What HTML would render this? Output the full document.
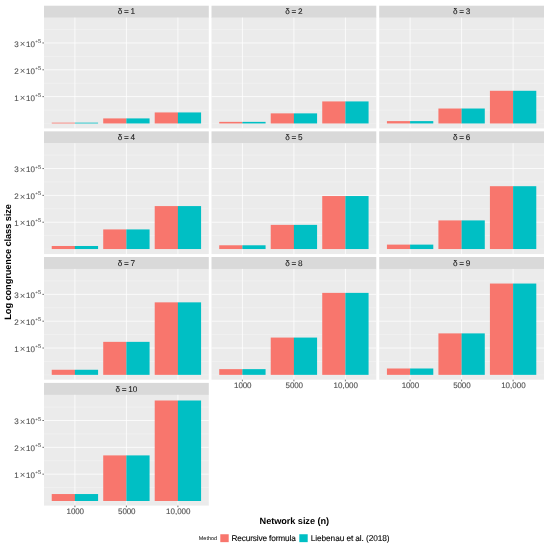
<!DOCTYPE html>
<html lang="en">
<head>
<meta charset="utf-8">
<title>Log congruence class size by network size</title>
<style>
html,body{margin:0;padding:0;background:#fff;}
body{width:550px;height:547px;overflow:hidden;font-family:"Liberation Sans",Arial,Helvetica,sans-serif;}
svg{display:block;text-rendering:geometricPrecision;}
</style>
</head>
<body>
<svg width="550" height="547" viewBox="0 0 550 547" font-family="'Liberation Sans', Arial, Helvetica, sans-serif">
<rect x="0" y="0" width="550" height="547" fill="#ffffff"/>
<g>
<rect x="44.00" y="5.70" width="164.80" height="12.20" fill="#D9D9D9"/>
<rect x="44.00" y="17.60" width="164.80" height="110.80" fill="#EBEBEB"/>
<line x1="44.00" x2="208.80" y1="123.45" y2="123.45" stroke="#fff" stroke-opacity="0.35" stroke-width="0.5"/>
<line x1="44.00" x2="208.80" y1="110.03" y2="110.03" stroke="#fff" stroke-opacity="0.6" stroke-width="0.5"/>
<line x1="44.00" x2="208.80" y1="83.20" y2="83.20" stroke="#fff" stroke-opacity="0.6" stroke-width="0.5"/>
<line x1="44.00" x2="208.80" y1="56.37" y2="56.37" stroke="#fff" stroke-opacity="0.6" stroke-width="0.5"/>
<line x1="44.00" x2="208.80" y1="29.54" y2="29.54" stroke="#fff" stroke-opacity="0.6" stroke-width="0.5"/>
<line x1="44.00" x2="208.80" y1="96.62" y2="96.62" stroke="#fff" stroke-opacity="0.9" stroke-width="0.85"/>
<line x1="44.00" x2="208.80" y1="69.79" y2="69.79" stroke="#fff" stroke-opacity="0.9" stroke-width="0.85"/>
<line x1="44.00" x2="208.80" y1="42.96" y2="42.96" stroke="#fff" stroke-opacity="0.9" stroke-width="0.85"/>
<line x1="74.90" x2="74.90" y1="17.60" y2="128.40" stroke="#fff" stroke-opacity="0.9" stroke-width="0.85"/>
<line x1="126.40" x2="126.40" y1="17.60" y2="128.40" stroke="#fff" stroke-opacity="0.9" stroke-width="0.85"/>
<line x1="177.90" x2="177.90" y1="17.60" y2="128.40" stroke="#fff" stroke-opacity="0.9" stroke-width="0.85"/>
<rect x="51.73" y="122.66" width="23.28" height="0.79" fill="#F8766D"/>
<rect x="74.90" y="122.66" width="23.18" height="0.79" fill="#00BFC4"/>
<rect x="103.22" y="118.41" width="23.28" height="5.04" fill="#F8766D"/>
<rect x="126.40" y="118.41" width="23.18" height="5.04" fill="#00BFC4"/>
<rect x="154.72" y="112.44" width="23.28" height="11.01" fill="#F8766D"/>
<rect x="177.90" y="112.44" width="23.18" height="11.01" fill="#00BFC4"/>
<text x="126.40" y="14.45" font-size="8.2" fill="#1A1A1A" stroke="#1A1A1A" stroke-width="0.1" text-anchor="middle" word-spacing="-0.6">δ = 1</text>
<line x1="42.40" x2="44.00" y1="96.62" y2="96.62" stroke="#333333" stroke-width="0.7"/>
<text y="100.52" font-size="8.0" fill="#4D4D4D"><tspan x="14.2" stroke="#4D4D4D" stroke-width="0.1">1</tspan><tspan x="19.75" font-size="9.6" dy="0.3" fill="#5c5c5c">×</tspan><tspan x="26.0" dy="-0.3" stroke="#4D4D4D" stroke-width="0.1">10</tspan><tspan x="35.2" dy="-3.8" font-size="4.6">+</tspan><tspan x="38.0" font-size="5.7">5</tspan></text>
<line x1="42.40" x2="44.00" y1="69.79" y2="69.79" stroke="#333333" stroke-width="0.7"/>
<text y="73.69" font-size="8.0" fill="#4D4D4D"><tspan x="14.2" stroke="#4D4D4D" stroke-width="0.1">2</tspan><tspan x="19.75" font-size="9.6" dy="0.3" fill="#5c5c5c">×</tspan><tspan x="26.0" dy="-0.3" stroke="#4D4D4D" stroke-width="0.1">10</tspan><tspan x="35.2" dy="-3.8" font-size="4.6">+</tspan><tspan x="38.0" font-size="5.7">5</tspan></text>
<line x1="42.40" x2="44.00" y1="42.96" y2="42.96" stroke="#333333" stroke-width="0.7"/>
<text y="46.86" font-size="8.0" fill="#4D4D4D"><tspan x="14.2" stroke="#4D4D4D" stroke-width="0.1">3</tspan><tspan x="19.75" font-size="9.6" dy="0.3" fill="#5c5c5c">×</tspan><tspan x="26.0" dy="-0.3" stroke="#4D4D4D" stroke-width="0.1">10</tspan><tspan x="35.2" dy="-3.8" font-size="4.6">+</tspan><tspan x="38.0" font-size="5.7">5</tspan></text>
</g>
<g>
<rect x="211.50" y="5.70" width="164.80" height="12.20" fill="#D9D9D9"/>
<rect x="211.50" y="17.60" width="164.80" height="110.80" fill="#EBEBEB"/>
<line x1="211.50" x2="376.30" y1="123.45" y2="123.45" stroke="#fff" stroke-opacity="0.35" stroke-width="0.5"/>
<line x1="211.50" x2="376.30" y1="110.03" y2="110.03" stroke="#fff" stroke-opacity="0.6" stroke-width="0.5"/>
<line x1="211.50" x2="376.30" y1="83.20" y2="83.20" stroke="#fff" stroke-opacity="0.6" stroke-width="0.5"/>
<line x1="211.50" x2="376.30" y1="56.37" y2="56.37" stroke="#fff" stroke-opacity="0.6" stroke-width="0.5"/>
<line x1="211.50" x2="376.30" y1="29.54" y2="29.54" stroke="#fff" stroke-opacity="0.6" stroke-width="0.5"/>
<line x1="211.50" x2="376.30" y1="96.62" y2="96.62" stroke="#fff" stroke-opacity="0.9" stroke-width="0.85"/>
<line x1="211.50" x2="376.30" y1="69.79" y2="69.79" stroke="#fff" stroke-opacity="0.9" stroke-width="0.85"/>
<line x1="211.50" x2="376.30" y1="42.96" y2="42.96" stroke="#fff" stroke-opacity="0.9" stroke-width="0.85"/>
<line x1="242.40" x2="242.40" y1="17.60" y2="128.40" stroke="#fff" stroke-opacity="0.9" stroke-width="0.85"/>
<line x1="293.90" x2="293.90" y1="17.60" y2="128.40" stroke="#fff" stroke-opacity="0.9" stroke-width="0.85"/>
<line x1="345.40" x2="345.40" y1="17.60" y2="128.40" stroke="#fff" stroke-opacity="0.9" stroke-width="0.85"/>
<rect x="219.22" y="121.87" width="23.28" height="1.58" fill="#F8766D"/>
<rect x="242.40" y="121.87" width="23.18" height="1.58" fill="#00BFC4"/>
<rect x="270.73" y="113.37" width="23.28" height="10.08" fill="#F8766D"/>
<rect x="293.90" y="113.37" width="23.18" height="10.08" fill="#00BFC4"/>
<rect x="322.23" y="101.42" width="23.28" height="22.03" fill="#F8766D"/>
<rect x="345.40" y="101.42" width="23.18" height="22.03" fill="#00BFC4"/>
<text x="293.90" y="14.45" font-size="8.2" fill="#1A1A1A" stroke="#1A1A1A" stroke-width="0.1" text-anchor="middle" word-spacing="-0.6">δ = 2</text>
</g>
<g>
<rect x="379.20" y="5.70" width="164.80" height="12.20" fill="#D9D9D9"/>
<rect x="379.20" y="17.60" width="164.80" height="110.80" fill="#EBEBEB"/>
<line x1="379.20" x2="544.00" y1="123.45" y2="123.45" stroke="#fff" stroke-opacity="0.35" stroke-width="0.5"/>
<line x1="379.20" x2="544.00" y1="110.03" y2="110.03" stroke="#fff" stroke-opacity="0.6" stroke-width="0.5"/>
<line x1="379.20" x2="544.00" y1="83.20" y2="83.20" stroke="#fff" stroke-opacity="0.6" stroke-width="0.5"/>
<line x1="379.20" x2="544.00" y1="56.37" y2="56.37" stroke="#fff" stroke-opacity="0.6" stroke-width="0.5"/>
<line x1="379.20" x2="544.00" y1="29.54" y2="29.54" stroke="#fff" stroke-opacity="0.6" stroke-width="0.5"/>
<line x1="379.20" x2="544.00" y1="96.62" y2="96.62" stroke="#fff" stroke-opacity="0.9" stroke-width="0.85"/>
<line x1="379.20" x2="544.00" y1="69.79" y2="69.79" stroke="#fff" stroke-opacity="0.9" stroke-width="0.85"/>
<line x1="379.20" x2="544.00" y1="42.96" y2="42.96" stroke="#fff" stroke-opacity="0.9" stroke-width="0.85"/>
<line x1="410.10" x2="410.10" y1="17.60" y2="128.40" stroke="#fff" stroke-opacity="0.9" stroke-width="0.85"/>
<line x1="461.60" x2="461.60" y1="17.60" y2="128.40" stroke="#fff" stroke-opacity="0.9" stroke-width="0.85"/>
<line x1="513.10" x2="513.10" y1="17.60" y2="128.40" stroke="#fff" stroke-opacity="0.9" stroke-width="0.85"/>
<rect x="386.93" y="121.11" width="23.28" height="2.34" fill="#F8766D"/>
<rect x="410.10" y="121.11" width="23.18" height="2.34" fill="#00BFC4"/>
<rect x="438.42" y="108.52" width="23.28" height="14.93" fill="#F8766D"/>
<rect x="461.60" y="108.52" width="23.18" height="14.93" fill="#00BFC4"/>
<rect x="489.92" y="90.79" width="23.28" height="32.66" fill="#F8766D"/>
<rect x="513.10" y="90.79" width="23.18" height="32.66" fill="#00BFC4"/>
<text x="461.60" y="14.45" font-size="8.2" fill="#1A1A1A" stroke="#1A1A1A" stroke-width="0.1" text-anchor="middle" word-spacing="-0.6">δ = 3</text>
</g>
<g>
<rect x="44.00" y="131.35" width="164.80" height="12.20" fill="#D9D9D9"/>
<rect x="44.00" y="143.25" width="164.80" height="110.80" fill="#EBEBEB"/>
<line x1="44.00" x2="208.80" y1="249.05" y2="249.05" stroke="#fff" stroke-opacity="0.35" stroke-width="0.5"/>
<line x1="44.00" x2="208.80" y1="235.63" y2="235.63" stroke="#fff" stroke-opacity="0.6" stroke-width="0.5"/>
<line x1="44.00" x2="208.80" y1="208.80" y2="208.80" stroke="#fff" stroke-opacity="0.6" stroke-width="0.5"/>
<line x1="44.00" x2="208.80" y1="181.97" y2="181.97" stroke="#fff" stroke-opacity="0.6" stroke-width="0.5"/>
<line x1="44.00" x2="208.80" y1="155.14" y2="155.14" stroke="#fff" stroke-opacity="0.6" stroke-width="0.5"/>
<line x1="44.00" x2="208.80" y1="222.22" y2="222.22" stroke="#fff" stroke-opacity="0.9" stroke-width="0.85"/>
<line x1="44.00" x2="208.80" y1="195.39" y2="195.39" stroke="#fff" stroke-opacity="0.9" stroke-width="0.85"/>
<line x1="44.00" x2="208.80" y1="168.56" y2="168.56" stroke="#fff" stroke-opacity="0.9" stroke-width="0.85"/>
<line x1="74.90" x2="74.90" y1="143.25" y2="254.05" stroke="#fff" stroke-opacity="0.9" stroke-width="0.85"/>
<line x1="126.40" x2="126.40" y1="143.25" y2="254.05" stroke="#fff" stroke-opacity="0.9" stroke-width="0.85"/>
<line x1="177.90" x2="177.90" y1="143.25" y2="254.05" stroke="#fff" stroke-opacity="0.9" stroke-width="0.85"/>
<rect x="51.73" y="245.99" width="23.28" height="3.06" fill="#F8766D"/>
<rect x="74.90" y="245.99" width="23.18" height="3.06" fill="#00BFC4"/>
<rect x="103.22" y="229.43" width="23.28" height="19.62" fill="#F8766D"/>
<rect x="126.40" y="229.43" width="23.18" height="19.62" fill="#00BFC4"/>
<rect x="154.72" y="206.08" width="23.28" height="42.97" fill="#F8766D"/>
<rect x="177.90" y="206.08" width="23.18" height="42.97" fill="#00BFC4"/>
<text x="126.40" y="140.10" font-size="8.2" fill="#1A1A1A" stroke="#1A1A1A" stroke-width="0.1" text-anchor="middle" word-spacing="-0.6">δ = 4</text>
<line x1="42.40" x2="44.00" y1="222.22" y2="222.22" stroke="#333333" stroke-width="0.7"/>
<text y="226.12" font-size="8.0" fill="#4D4D4D"><tspan x="14.2" stroke="#4D4D4D" stroke-width="0.1">1</tspan><tspan x="19.75" font-size="9.6" dy="0.3" fill="#5c5c5c">×</tspan><tspan x="26.0" dy="-0.3" stroke="#4D4D4D" stroke-width="0.1">10</tspan><tspan x="35.2" dy="-3.8" font-size="4.6">+</tspan><tspan x="38.0" font-size="5.7">5</tspan></text>
<line x1="42.40" x2="44.00" y1="195.39" y2="195.39" stroke="#333333" stroke-width="0.7"/>
<text y="199.29" font-size="8.0" fill="#4D4D4D"><tspan x="14.2" stroke="#4D4D4D" stroke-width="0.1">2</tspan><tspan x="19.75" font-size="9.6" dy="0.3" fill="#5c5c5c">×</tspan><tspan x="26.0" dy="-0.3" stroke="#4D4D4D" stroke-width="0.1">10</tspan><tspan x="35.2" dy="-3.8" font-size="4.6">+</tspan><tspan x="38.0" font-size="5.7">5</tspan></text>
<line x1="42.40" x2="44.00" y1="168.56" y2="168.56" stroke="#333333" stroke-width="0.7"/>
<text y="172.46" font-size="8.0" fill="#4D4D4D"><tspan x="14.2" stroke="#4D4D4D" stroke-width="0.1">3</tspan><tspan x="19.75" font-size="9.6" dy="0.3" fill="#5c5c5c">×</tspan><tspan x="26.0" dy="-0.3" stroke="#4D4D4D" stroke-width="0.1">10</tspan><tspan x="35.2" dy="-3.8" font-size="4.6">+</tspan><tspan x="38.0" font-size="5.7">5</tspan></text>
</g>
<g>
<rect x="211.50" y="131.35" width="164.80" height="12.20" fill="#D9D9D9"/>
<rect x="211.50" y="143.25" width="164.80" height="110.80" fill="#EBEBEB"/>
<line x1="211.50" x2="376.30" y1="249.05" y2="249.05" stroke="#fff" stroke-opacity="0.35" stroke-width="0.5"/>
<line x1="211.50" x2="376.30" y1="235.63" y2="235.63" stroke="#fff" stroke-opacity="0.6" stroke-width="0.5"/>
<line x1="211.50" x2="376.30" y1="208.80" y2="208.80" stroke="#fff" stroke-opacity="0.6" stroke-width="0.5"/>
<line x1="211.50" x2="376.30" y1="181.97" y2="181.97" stroke="#fff" stroke-opacity="0.6" stroke-width="0.5"/>
<line x1="211.50" x2="376.30" y1="155.14" y2="155.14" stroke="#fff" stroke-opacity="0.6" stroke-width="0.5"/>
<line x1="211.50" x2="376.30" y1="222.22" y2="222.22" stroke="#fff" stroke-opacity="0.9" stroke-width="0.85"/>
<line x1="211.50" x2="376.30" y1="195.39" y2="195.39" stroke="#fff" stroke-opacity="0.9" stroke-width="0.85"/>
<line x1="211.50" x2="376.30" y1="168.56" y2="168.56" stroke="#fff" stroke-opacity="0.9" stroke-width="0.85"/>
<line x1="242.40" x2="242.40" y1="143.25" y2="254.05" stroke="#fff" stroke-opacity="0.9" stroke-width="0.85"/>
<line x1="293.90" x2="293.90" y1="143.25" y2="254.05" stroke="#fff" stroke-opacity="0.9" stroke-width="0.85"/>
<line x1="345.40" x2="345.40" y1="143.25" y2="254.05" stroke="#fff" stroke-opacity="0.9" stroke-width="0.85"/>
<rect x="219.22" y="245.29" width="23.28" height="3.76" fill="#F8766D"/>
<rect x="242.40" y="245.29" width="23.18" height="3.76" fill="#00BFC4"/>
<rect x="270.73" y="224.87" width="23.28" height="24.18" fill="#F8766D"/>
<rect x="293.90" y="224.87" width="23.18" height="24.18" fill="#00BFC4"/>
<rect x="322.23" y="196.03" width="23.28" height="53.02" fill="#F8766D"/>
<rect x="345.40" y="196.03" width="23.18" height="53.02" fill="#00BFC4"/>
<text x="293.90" y="140.10" font-size="8.2" fill="#1A1A1A" stroke="#1A1A1A" stroke-width="0.1" text-anchor="middle" word-spacing="-0.6">δ = 5</text>
</g>
<g>
<rect x="379.20" y="131.35" width="164.80" height="12.20" fill="#D9D9D9"/>
<rect x="379.20" y="143.25" width="164.80" height="110.80" fill="#EBEBEB"/>
<line x1="379.20" x2="544.00" y1="249.05" y2="249.05" stroke="#fff" stroke-opacity="0.35" stroke-width="0.5"/>
<line x1="379.20" x2="544.00" y1="235.63" y2="235.63" stroke="#fff" stroke-opacity="0.6" stroke-width="0.5"/>
<line x1="379.20" x2="544.00" y1="208.80" y2="208.80" stroke="#fff" stroke-opacity="0.6" stroke-width="0.5"/>
<line x1="379.20" x2="544.00" y1="181.97" y2="181.97" stroke="#fff" stroke-opacity="0.6" stroke-width="0.5"/>
<line x1="379.20" x2="544.00" y1="155.14" y2="155.14" stroke="#fff" stroke-opacity="0.6" stroke-width="0.5"/>
<line x1="379.20" x2="544.00" y1="222.22" y2="222.22" stroke="#fff" stroke-opacity="0.9" stroke-width="0.85"/>
<line x1="379.20" x2="544.00" y1="195.39" y2="195.39" stroke="#fff" stroke-opacity="0.9" stroke-width="0.85"/>
<line x1="379.20" x2="544.00" y1="168.56" y2="168.56" stroke="#fff" stroke-opacity="0.9" stroke-width="0.85"/>
<line x1="410.10" x2="410.10" y1="143.25" y2="254.05" stroke="#fff" stroke-opacity="0.9" stroke-width="0.85"/>
<line x1="461.60" x2="461.60" y1="143.25" y2="254.05" stroke="#fff" stroke-opacity="0.9" stroke-width="0.85"/>
<line x1="513.10" x2="513.10" y1="143.25" y2="254.05" stroke="#fff" stroke-opacity="0.9" stroke-width="0.85"/>
<rect x="386.93" y="244.62" width="23.28" height="4.43" fill="#F8766D"/>
<rect x="410.10" y="244.62" width="23.18" height="4.43" fill="#00BFC4"/>
<rect x="438.42" y="220.41" width="23.28" height="28.64" fill="#F8766D"/>
<rect x="461.60" y="220.41" width="23.18" height="28.64" fill="#00BFC4"/>
<rect x="489.92" y="186.20" width="23.28" height="62.85" fill="#F8766D"/>
<rect x="513.10" y="186.20" width="23.18" height="62.85" fill="#00BFC4"/>
<text x="461.60" y="140.10" font-size="8.2" fill="#1A1A1A" stroke="#1A1A1A" stroke-width="0.1" text-anchor="middle" word-spacing="-0.6">δ = 6</text>
</g>
<g>
<rect x="44.00" y="257.00" width="164.80" height="12.20" fill="#D9D9D9"/>
<rect x="44.00" y="268.90" width="164.80" height="110.80" fill="#EBEBEB"/>
<line x1="44.00" x2="208.80" y1="374.85" y2="374.85" stroke="#fff" stroke-opacity="0.35" stroke-width="0.5"/>
<line x1="44.00" x2="208.80" y1="361.43" y2="361.43" stroke="#fff" stroke-opacity="0.6" stroke-width="0.5"/>
<line x1="44.00" x2="208.80" y1="334.60" y2="334.60" stroke="#fff" stroke-opacity="0.6" stroke-width="0.5"/>
<line x1="44.00" x2="208.80" y1="307.77" y2="307.77" stroke="#fff" stroke-opacity="0.6" stroke-width="0.5"/>
<line x1="44.00" x2="208.80" y1="280.94" y2="280.94" stroke="#fff" stroke-opacity="0.6" stroke-width="0.5"/>
<line x1="44.00" x2="208.80" y1="348.02" y2="348.02" stroke="#fff" stroke-opacity="0.9" stroke-width="0.85"/>
<line x1="44.00" x2="208.80" y1="321.19" y2="321.19" stroke="#fff" stroke-opacity="0.9" stroke-width="0.85"/>
<line x1="44.00" x2="208.80" y1="294.36" y2="294.36" stroke="#fff" stroke-opacity="0.9" stroke-width="0.85"/>
<line x1="74.90" x2="74.90" y1="268.90" y2="379.70" stroke="#fff" stroke-opacity="0.9" stroke-width="0.85"/>
<line x1="126.40" x2="126.40" y1="268.90" y2="379.70" stroke="#fff" stroke-opacity="0.9" stroke-width="0.85"/>
<line x1="177.90" x2="177.90" y1="268.90" y2="379.70" stroke="#fff" stroke-opacity="0.9" stroke-width="0.85"/>
<rect x="51.73" y="369.77" width="23.28" height="5.08" fill="#F8766D"/>
<rect x="74.90" y="369.77" width="23.18" height="5.08" fill="#00BFC4"/>
<rect x="103.22" y="341.86" width="23.28" height="32.99" fill="#F8766D"/>
<rect x="126.40" y="341.86" width="23.18" height="32.99" fill="#00BFC4"/>
<rect x="154.72" y="302.35" width="23.28" height="72.50" fill="#F8766D"/>
<rect x="177.90" y="302.35" width="23.18" height="72.50" fill="#00BFC4"/>
<text x="126.40" y="265.75" font-size="8.2" fill="#1A1A1A" stroke="#1A1A1A" stroke-width="0.1" text-anchor="middle" word-spacing="-0.6">δ = 7</text>
<line x1="42.40" x2="44.00" y1="348.02" y2="348.02" stroke="#333333" stroke-width="0.7"/>
<text y="351.92" font-size="8.0" fill="#4D4D4D"><tspan x="14.2" stroke="#4D4D4D" stroke-width="0.1">1</tspan><tspan x="19.75" font-size="9.6" dy="0.3" fill="#5c5c5c">×</tspan><tspan x="26.0" dy="-0.3" stroke="#4D4D4D" stroke-width="0.1">10</tspan><tspan x="35.2" dy="-3.8" font-size="4.6">+</tspan><tspan x="38.0" font-size="5.7">5</tspan></text>
<line x1="42.40" x2="44.00" y1="321.19" y2="321.19" stroke="#333333" stroke-width="0.7"/>
<text y="325.09" font-size="8.0" fill="#4D4D4D"><tspan x="14.2" stroke="#4D4D4D" stroke-width="0.1">2</tspan><tspan x="19.75" font-size="9.6" dy="0.3" fill="#5c5c5c">×</tspan><tspan x="26.0" dy="-0.3" stroke="#4D4D4D" stroke-width="0.1">10</tspan><tspan x="35.2" dy="-3.8" font-size="4.6">+</tspan><tspan x="38.0" font-size="5.7">5</tspan></text>
<line x1="42.40" x2="44.00" y1="294.36" y2="294.36" stroke="#333333" stroke-width="0.7"/>
<text y="298.26" font-size="8.0" fill="#4D4D4D"><tspan x="14.2" stroke="#4D4D4D" stroke-width="0.1">3</tspan><tspan x="19.75" font-size="9.6" dy="0.3" fill="#5c5c5c">×</tspan><tspan x="26.0" dy="-0.3" stroke="#4D4D4D" stroke-width="0.1">10</tspan><tspan x="35.2" dy="-3.8" font-size="4.6">+</tspan><tspan x="38.0" font-size="5.7">5</tspan></text>
</g>
<g>
<rect x="211.50" y="257.00" width="164.80" height="12.20" fill="#D9D9D9"/>
<rect x="211.50" y="268.90" width="164.80" height="110.80" fill="#EBEBEB"/>
<line x1="211.50" x2="376.30" y1="374.85" y2="374.85" stroke="#fff" stroke-opacity="0.35" stroke-width="0.5"/>
<line x1="211.50" x2="376.30" y1="361.43" y2="361.43" stroke="#fff" stroke-opacity="0.6" stroke-width="0.5"/>
<line x1="211.50" x2="376.30" y1="334.60" y2="334.60" stroke="#fff" stroke-opacity="0.6" stroke-width="0.5"/>
<line x1="211.50" x2="376.30" y1="307.77" y2="307.77" stroke="#fff" stroke-opacity="0.6" stroke-width="0.5"/>
<line x1="211.50" x2="376.30" y1="280.94" y2="280.94" stroke="#fff" stroke-opacity="0.6" stroke-width="0.5"/>
<line x1="211.50" x2="376.30" y1="348.02" y2="348.02" stroke="#fff" stroke-opacity="0.9" stroke-width="0.85"/>
<line x1="211.50" x2="376.30" y1="321.19" y2="321.19" stroke="#fff" stroke-opacity="0.9" stroke-width="0.85"/>
<line x1="211.50" x2="376.30" y1="294.36" y2="294.36" stroke="#fff" stroke-opacity="0.9" stroke-width="0.85"/>
<line x1="242.40" x2="242.40" y1="268.90" y2="379.70" stroke="#fff" stroke-opacity="0.9" stroke-width="0.85"/>
<line x1="293.90" x2="293.90" y1="268.90" y2="379.70" stroke="#fff" stroke-opacity="0.9" stroke-width="0.85"/>
<line x1="345.40" x2="345.40" y1="268.90" y2="379.70" stroke="#fff" stroke-opacity="0.9" stroke-width="0.85"/>
<rect x="219.22" y="369.13" width="23.28" height="5.72" fill="#F8766D"/>
<rect x="242.40" y="369.13" width="23.18" height="5.72" fill="#00BFC4"/>
<rect x="270.73" y="337.58" width="23.28" height="37.27" fill="#F8766D"/>
<rect x="293.90" y="337.58" width="23.18" height="37.27" fill="#00BFC4"/>
<rect x="322.23" y="292.88" width="23.28" height="81.97" fill="#F8766D"/>
<rect x="345.40" y="292.88" width="23.18" height="81.97" fill="#00BFC4"/>
<text x="293.90" y="265.75" font-size="8.2" fill="#1A1A1A" stroke="#1A1A1A" stroke-width="0.1" text-anchor="middle" word-spacing="-0.6">δ = 8</text>
<line x1="242.40" x2="242.40" y1="379.70" y2="381.30" stroke="#333333" stroke-width="0.7"/>
<text x="234.10" y="388.20" font-size="8.0" fill="#4D4D4D" stroke="#4D4D4D" stroke-width="0.1" textLength="17.299999999999997" lengthAdjust="spacing">1000</text>
<line x1="293.90" x2="293.90" y1="379.70" y2="381.30" stroke="#333333" stroke-width="0.7"/>
<text x="285.60" y="388.20" font-size="8.0" fill="#4D4D4D" stroke="#4D4D4D" stroke-width="0.1" textLength="17.299999999999997" lengthAdjust="spacing">5000</text>
<line x1="345.40" x2="345.40" y1="379.70" y2="381.30" stroke="#333333" stroke-width="0.7"/>
<text x="333.45" y="388.20" font-size="8.0" fill="#4D4D4D" stroke="#4D4D4D" stroke-width="0.1" textLength="24.599999999999998" lengthAdjust="spacing">10,000</text>
</g>
<g>
<rect x="379.20" y="257.00" width="164.80" height="12.20" fill="#D9D9D9"/>
<rect x="379.20" y="268.90" width="164.80" height="110.80" fill="#EBEBEB"/>
<line x1="379.20" x2="544.00" y1="374.85" y2="374.85" stroke="#fff" stroke-opacity="0.35" stroke-width="0.5"/>
<line x1="379.20" x2="544.00" y1="361.43" y2="361.43" stroke="#fff" stroke-opacity="0.6" stroke-width="0.5"/>
<line x1="379.20" x2="544.00" y1="334.60" y2="334.60" stroke="#fff" stroke-opacity="0.6" stroke-width="0.5"/>
<line x1="379.20" x2="544.00" y1="307.77" y2="307.77" stroke="#fff" stroke-opacity="0.6" stroke-width="0.5"/>
<line x1="379.20" x2="544.00" y1="280.94" y2="280.94" stroke="#fff" stroke-opacity="0.6" stroke-width="0.5"/>
<line x1="379.20" x2="544.00" y1="348.02" y2="348.02" stroke="#fff" stroke-opacity="0.9" stroke-width="0.85"/>
<line x1="379.20" x2="544.00" y1="321.19" y2="321.19" stroke="#fff" stroke-opacity="0.9" stroke-width="0.85"/>
<line x1="379.20" x2="544.00" y1="294.36" y2="294.36" stroke="#fff" stroke-opacity="0.9" stroke-width="0.85"/>
<line x1="410.10" x2="410.10" y1="268.90" y2="379.70" stroke="#fff" stroke-opacity="0.9" stroke-width="0.85"/>
<line x1="461.60" x2="461.60" y1="268.90" y2="379.70" stroke="#fff" stroke-opacity="0.9" stroke-width="0.85"/>
<line x1="513.10" x2="513.10" y1="268.90" y2="379.70" stroke="#fff" stroke-opacity="0.9" stroke-width="0.85"/>
<rect x="386.93" y="368.50" width="23.28" height="6.35" fill="#F8766D"/>
<rect x="410.10" y="368.50" width="23.18" height="6.35" fill="#00BFC4"/>
<rect x="438.42" y="333.39" width="23.28" height="41.46" fill="#F8766D"/>
<rect x="461.60" y="333.39" width="23.18" height="41.46" fill="#00BFC4"/>
<rect x="489.92" y="283.55" width="23.28" height="91.30" fill="#F8766D"/>
<rect x="513.10" y="283.55" width="23.18" height="91.30" fill="#00BFC4"/>
<text x="461.60" y="265.75" font-size="8.2" fill="#1A1A1A" stroke="#1A1A1A" stroke-width="0.1" text-anchor="middle" word-spacing="-0.6">δ = 9</text>
<line x1="410.10" x2="410.10" y1="379.70" y2="381.30" stroke="#333333" stroke-width="0.7"/>
<text x="401.80" y="388.20" font-size="8.0" fill="#4D4D4D" stroke="#4D4D4D" stroke-width="0.1" textLength="17.299999999999997" lengthAdjust="spacing">1000</text>
<line x1="461.60" x2="461.60" y1="379.70" y2="381.30" stroke="#333333" stroke-width="0.7"/>
<text x="453.30" y="388.20" font-size="8.0" fill="#4D4D4D" stroke="#4D4D4D" stroke-width="0.1" textLength="17.299999999999997" lengthAdjust="spacing">5000</text>
<line x1="513.10" x2="513.10" y1="379.70" y2="381.30" stroke="#333333" stroke-width="0.7"/>
<text x="501.15" y="388.20" font-size="8.0" fill="#4D4D4D" stroke="#4D4D4D" stroke-width="0.1" textLength="24.599999999999998" lengthAdjust="spacing">10,000</text>
</g>
<g>
<rect x="44.00" y="382.90" width="164.80" height="12.20" fill="#D9D9D9"/>
<rect x="44.00" y="394.80" width="164.80" height="110.80" fill="#EBEBEB"/>
<line x1="44.00" x2="208.80" y1="501.00" y2="501.00" stroke="#fff" stroke-opacity="0.35" stroke-width="0.5"/>
<line x1="44.00" x2="208.80" y1="487.58" y2="487.58" stroke="#fff" stroke-opacity="0.6" stroke-width="0.5"/>
<line x1="44.00" x2="208.80" y1="460.75" y2="460.75" stroke="#fff" stroke-opacity="0.6" stroke-width="0.5"/>
<line x1="44.00" x2="208.80" y1="433.92" y2="433.92" stroke="#fff" stroke-opacity="0.6" stroke-width="0.5"/>
<line x1="44.00" x2="208.80" y1="407.09" y2="407.09" stroke="#fff" stroke-opacity="0.6" stroke-width="0.5"/>
<line x1="44.00" x2="208.80" y1="474.17" y2="474.17" stroke="#fff" stroke-opacity="0.9" stroke-width="0.85"/>
<line x1="44.00" x2="208.80" y1="447.34" y2="447.34" stroke="#fff" stroke-opacity="0.9" stroke-width="0.85"/>
<line x1="44.00" x2="208.80" y1="420.51" y2="420.51" stroke="#fff" stroke-opacity="0.9" stroke-width="0.85"/>
<line x1="74.90" x2="74.90" y1="394.80" y2="505.60" stroke="#fff" stroke-opacity="0.9" stroke-width="0.85"/>
<line x1="126.40" x2="126.40" y1="394.80" y2="505.60" stroke="#fff" stroke-opacity="0.9" stroke-width="0.85"/>
<line x1="177.90" x2="177.90" y1="394.80" y2="505.60" stroke="#fff" stroke-opacity="0.9" stroke-width="0.85"/>
<rect x="51.73" y="494.04" width="23.28" height="6.96" fill="#F8766D"/>
<rect x="74.90" y="494.04" width="23.18" height="6.96" fill="#00BFC4"/>
<rect x="103.22" y="455.40" width="23.28" height="45.60" fill="#F8766D"/>
<rect x="126.40" y="455.40" width="23.18" height="45.60" fill="#00BFC4"/>
<rect x="154.72" y="400.50" width="23.28" height="100.50" fill="#F8766D"/>
<rect x="177.90" y="400.50" width="23.18" height="100.50" fill="#00BFC4"/>
<text x="126.40" y="391.65" font-size="8.2" fill="#1A1A1A" stroke="#1A1A1A" stroke-width="0.1" text-anchor="middle" word-spacing="-0.6">δ = 10</text>
<line x1="42.40" x2="44.00" y1="474.17" y2="474.17" stroke="#333333" stroke-width="0.7"/>
<text y="478.07" font-size="8.0" fill="#4D4D4D"><tspan x="14.2" stroke="#4D4D4D" stroke-width="0.1">1</tspan><tspan x="19.75" font-size="9.6" dy="0.3" fill="#5c5c5c">×</tspan><tspan x="26.0" dy="-0.3" stroke="#4D4D4D" stroke-width="0.1">10</tspan><tspan x="35.2" dy="-3.8" font-size="4.6">+</tspan><tspan x="38.0" font-size="5.7">5</tspan></text>
<line x1="42.40" x2="44.00" y1="447.34" y2="447.34" stroke="#333333" stroke-width="0.7"/>
<text y="451.24" font-size="8.0" fill="#4D4D4D"><tspan x="14.2" stroke="#4D4D4D" stroke-width="0.1">2</tspan><tspan x="19.75" font-size="9.6" dy="0.3" fill="#5c5c5c">×</tspan><tspan x="26.0" dy="-0.3" stroke="#4D4D4D" stroke-width="0.1">10</tspan><tspan x="35.2" dy="-3.8" font-size="4.6">+</tspan><tspan x="38.0" font-size="5.7">5</tspan></text>
<line x1="42.40" x2="44.00" y1="420.51" y2="420.51" stroke="#333333" stroke-width="0.7"/>
<text y="424.41" font-size="8.0" fill="#4D4D4D"><tspan x="14.2" stroke="#4D4D4D" stroke-width="0.1">3</tspan><tspan x="19.75" font-size="9.6" dy="0.3" fill="#5c5c5c">×</tspan><tspan x="26.0" dy="-0.3" stroke="#4D4D4D" stroke-width="0.1">10</tspan><tspan x="35.2" dy="-3.8" font-size="4.6">+</tspan><tspan x="38.0" font-size="5.7">5</tspan></text>
<line x1="74.90" x2="74.90" y1="505.60" y2="507.20" stroke="#333333" stroke-width="0.7"/>
<text x="66.60" y="514.10" font-size="8.0" fill="#4D4D4D" stroke="#4D4D4D" stroke-width="0.1" textLength="17.299999999999997" lengthAdjust="spacing">1000</text>
<line x1="126.40" x2="126.40" y1="505.60" y2="507.20" stroke="#333333" stroke-width="0.7"/>
<text x="118.10" y="514.10" font-size="8.0" fill="#4D4D4D" stroke="#4D4D4D" stroke-width="0.1" textLength="17.299999999999997" lengthAdjust="spacing">5000</text>
<line x1="177.90" x2="177.90" y1="505.60" y2="507.20" stroke="#333333" stroke-width="0.7"/>
<text x="165.95" y="514.10" font-size="8.0" fill="#4D4D4D" stroke="#4D4D4D" stroke-width="0.1" textLength="24.599999999999998" lengthAdjust="spacing">10,000</text>
</g>
<text x="259.6" y="523.85" font-size="9.2" font-weight="bold" fill="#000" textLength="69.4" lengthAdjust="spacing">Network size (n)</text>
<text transform="translate(10.7 319.7) rotate(-90)" font-size="9.3" font-weight="bold" fill="#000" textLength="115.6" lengthAdjust="spacing">Log congruence class size</text>
<text x="198.8" y="540.2" font-size="5.45" fill="#000" textLength="18.3" lengthAdjust="spacing">Method</text>
<rect x="220.3" y="534.25" width="8.4" height="7.9" fill="#F8766D"/>
<text x="231.4" y="540.8" font-size="8.3" fill="#000" stroke="#000" stroke-width="0.1" textLength="64.5" lengthAdjust="spacing">Recursive formula</text>
<rect x="299.3" y="534.25" width="8.4" height="7.9" fill="#00BFC4"/>
<text x="310.8" y="540.8" font-size="8.3" fill="#000" stroke="#000" stroke-width="0.1" textLength="78.7" lengthAdjust="spacing">Liebenau et al. (2018)</text>
</svg>
</body>
</html>
